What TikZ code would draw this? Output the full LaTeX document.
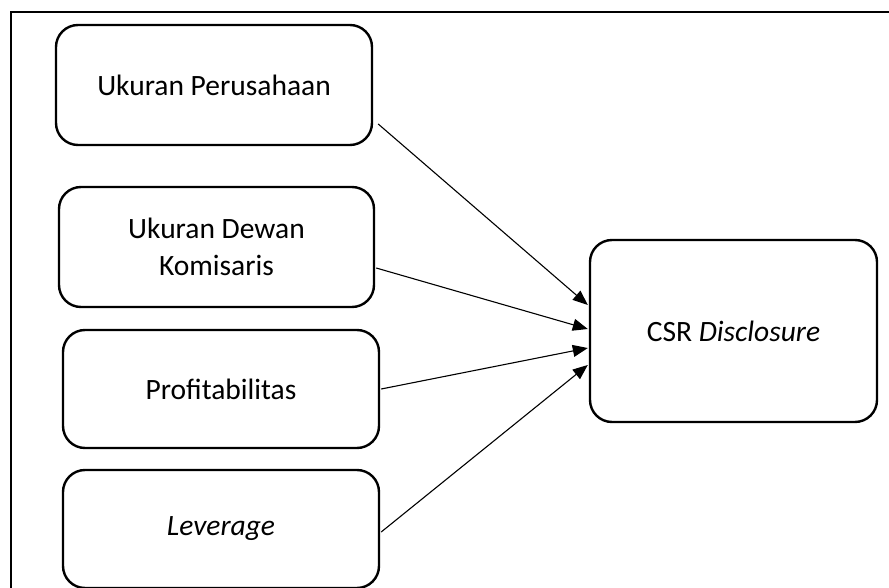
\documentclass[tikz,border=0pt]{standalone}
\usepackage{fontspec}
\setmainfont{Carlito}
\usetikzlibrary{arrows.meta}
\begin{document}
\begin{tikzpicture}[x=1pt,y=1pt,
  varbox/.style={draw, line width=2.4pt, rounded corners=22pt, inner sep=0pt, align=center,
    font=\fontsize{29.5}{37}\selectfont},
  link/.style={line width=1.1pt, -{Triangle[length=15pt,width=12pt]}}]
\useasboundingbox (0,0) rectangle (889,587);
\clip (0,0) rectangle (889,587);
% outer frame (only top and left edges visible)
\draw[line width=2.8pt] (11,-10) -- (11,575) -- (900,575);
\node[varbox, minimum width=316pt, minimum height=120pt] (b1) at (214,502) {Ukuran Perusahaan};
\node[varbox, minimum width=315pt, minimum height=120pt] (b2) at (216.5,340) {Ukuran Dewan\\Komisaris};
\node[varbox, minimum width=316pt, minimum height=118pt] (b3) at (221,198) {Profitabilitas};
\node[varbox, minimum width=316pt, minimum height=118pt] (b4) at (221,58) {\itshape Leverage};
\node[varbox, minimum width=287pt, minimum height=182pt] (csr) at (733.5,256) {CSR \textit{Disclosure}};
\draw[link] ([xshift=5pt,yshift=-39pt]b1.east) -- ([xshift=-1pt,yshift=26pt]csr.west);
\draw[link] ([xshift=1pt,yshift=-21pt]b2.east) -- ([xshift=-1pt,yshift=2pt]csr.west);
\draw[link] ([xshift=1pt,yshift=0pt]b3.east) -- ([xshift=-1pt,yshift=-17pt]csr.west);
\draw[link] ([xshift=1pt,yshift=-3pt]b4.east) -- ([xshift=-1pt,yshift=-34pt]csr.west);
\end{tikzpicture}
\end{document}
